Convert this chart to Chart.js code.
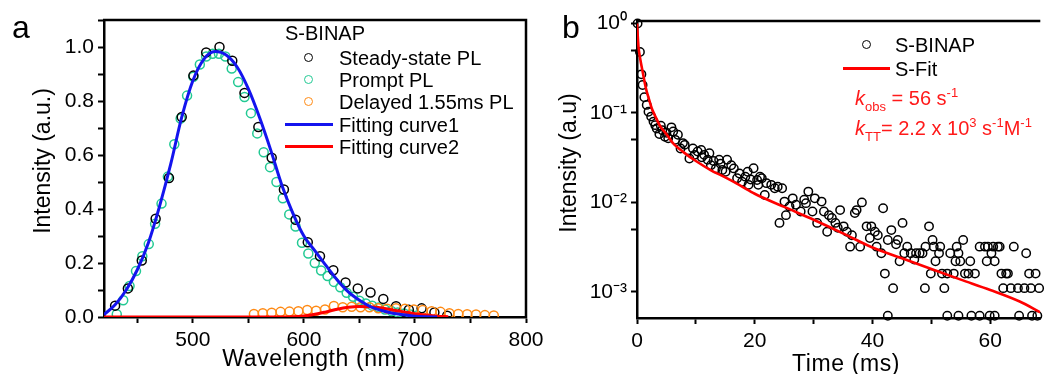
<!DOCTYPE html>
<html>
<head>
<meta charset="utf-8">
<script src="https://cdn.jsdelivr.net/npm/chart.js@4.4.1/dist/chart.umd.min.js"></script>
<style>
    body { margin: 0; background: #fff; }
    #wrap { position: relative; width: 1046px; height: 374px; overflow: hidden;
            font-family: "Liberation Sans", Arial, sans-serif; color: #000; }
    canvas { position: absolute; top: 0; }
    .txt { position: absolute; white-space: nowrap; line-height: 1; font-size: 20px; }
    .rot { position: absolute; }
    .rot span { position: absolute; white-space: nowrap; line-height: 1; font-size: 23px;
                transform: translate(-50%, -50%) rotate(-90deg); }
    .title { position: absolute; white-space: nowrap; line-height: 1; font-size: 23px;
             transform: translateX(-50%); letter-spacing: 0.6px; }
    .panel { position: absolute; font-size: 32px; line-height: 1; }
    .dot { position: absolute; width: 7px; height: 7px; border: 1.6px solid; border-radius: 50%; }
    .bar { position: absolute; height: 3px; }
    .red { color: #ff1a1a; }
    .sub { font-size: 13px; position: relative; top: 6px; }
    .sup { font-size: 13px; position: relative; top: -8px; }
</style>
</head>
<body>
<div id="wrap">
    <canvas id="spectraChart" width="560" height="374" style="left:0"></canvas>
    <canvas id="decayChart" width="516" height="374" style="left:530px"></canvas>

    <div class="panel" style="left:12px; top:11px">a</div>
    <div class="panel" style="left:562px; top:11px">b</div>

    <!-- titulos de ejes -->
    <div class="rot" style="left:42px; top:161px"><span>Intensity (a.u.)</span></div>
    <div class="rot" style="left:568px; top:163px"><span>Intensity (a.u)</span></div>
    <div class="title" style="left:314px; top:347px">Wavelength (nm)</div>
    <div class="title" style="left:846px; top:352px">Time (ms)</div>

    <!-- leyenda panel a -->
    <div class="txt" style="left:285px; top:23px">S-BINAP</div>
    <div class="dot" style="left:304px; top:53px; border-color:#000"></div>
    <div class="txt" style="left:339px; top:48px">Steady-state PL</div>
    <div class="dot" style="left:304px; top:75px; border-color:#22c993"></div>
    <div class="txt" style="left:339px; top:70px">Prompt PL</div>
    <div class="dot" style="left:304px; top:97px; border-color:#ff8a14"></div>
    <div class="txt" style="left:339px; top:92px">Delayed 1.55ms PL</div>
    <div class="bar" style="left:285px; top:123px; width:48px; background:#1414ee"></div>
    <div class="txt" style="left:339px; top:115px">Fitting curve1</div>
    <div class="bar" style="left:285px; top:145px; width:48px; background:#ff0000"></div>
    <div class="txt" style="left:339px; top:137px">Fitting curve2</div>

    <!-- leyenda panel b -->
    <div class="dot" style="left:862px; top:40px; border-color:#000"></div>
    <div class="txt" style="left:895px; top:35px">S-BINAP</div>
    <div class="bar" style="left:843px; top:67px; width:47px; background:#ff0000"></div>
    <div class="txt" style="left:895px; top:59px">S-Fit</div>
    <div class="txt red" style="left:855px; top:88px"><i>k</i><span class="sub">obs</span> = 56 s<span class="sup">-1</span></div>
    <div class="txt red" style="left:855px; top:118px"><i>k</i><span class="sub">TT</span>= 2.2 x 10<span class="sup">3</span> s<span class="sup">-1</span>M<span class="sup">-1</span></div>
</div>

<script>
// Panel a: espectros
const ssWl = [430, 441.5, 454, 466.5, 478.5, 490, 500.5, 512, 524, 535.5, 546.5, 559, 571, 582, 592.5, 603.5, 614.5, 626.5, 637.5, 648.5, 660, 671.5, 683, 694.5, 706, 717.5, 729];
const ssInt = [0.042, 0.106, 0.209, 0.364, 0.515, 0.741, 0.894, 0.98, 1.0, 0.949, 0.83, 0.704, 0.59, 0.472, 0.36, 0.277, 0.225, 0.173, 0.128, 0.106, 0.091, 0.067, 0.04, 0.027, 0.032, 0.017, 0.005];

const promptWl = [431.5, 437.3, 443, 448.8, 454.5, 460.3, 466, 471.8, 477.5, 483.3, 489, 494.8, 500.5, 506.3, 512, 517.8, 523.5, 529.3, 535, 540.8, 546.5, 552.3, 558, 563.8, 569.5, 575.3, 581, 586.8, 592.5, 598.3, 604, 609.8, 615.5, 621.3, 627, 632.8, 638.5, 644.3, 650, 655.8, 661.5, 667.3, 673, 678.8, 684.5, 690.3, 696, 701.8];
const promptInt = [0.01, 0.062, 0.115, 0.17, 0.225, 0.27, 0.345, 0.42, 0.52, 0.64, 0.735, 0.82, 0.89, 0.935, 0.965, 0.975, 0.975, 0.965, 0.92, 0.87, 0.815, 0.755, 0.68, 0.61, 0.555, 0.5, 0.44, 0.38, 0.335, 0.275, 0.235, 0.2, 0.172, 0.152, 0.13, 0.11, 0.09, 0.075, 0.06, 0.05, 0.042, 0.035, 0.028, 0.022, 0.017, 0.013, 0.009, 0.006];

const delayedWl = [555, 563, 571, 579, 587, 595, 603, 611, 619, 627, 635, 643, 651, 659, 667, 675, 683, 691, 699, 707, 715, 723, 731, 739, 747, 755, 763, 771];
const delayedInt = [0.011, 0.014, 0.016, 0.019, 0.02, 0.021, 0.026, 0.023, 0.028, 0.041, 0.036, 0.038, 0.036, 0.036, 0.032, 0.031, 0.032, 0.031, 0.028, 0.026, 0.021, 0.019, 0.014, 0.011, 0.01, 0.009, 0.007, 0.006];

const fit1Wl = [420, 430, 440, 450, 460, 470, 480, 490, 500, 510, 520, 530, 540, 550, 560, 570, 580, 590, 600, 610, 620, 630, 640, 650, 660, 670, 680, 690, 700, 710, 720];
const fit1Int = [0.009, 0.045, 0.1, 0.175, 0.275, 0.41, 0.565, 0.74, 0.875, 0.955, 0.983, 0.97, 0.925, 0.845, 0.74, 0.62, 0.49, 0.385, 0.3, 0.245, 0.19, 0.137, 0.093, 0.062, 0.038, 0.024, 0.014, 0.008, 0.003, 0.001, 0];

const fit2Wl = [420, 500, 580, 590, 600, 610, 620, 630, 640, 650, 660, 670, 680, 690, 700, 710, 720, 730];
const fit2Int = [0, 0, 0, 0.001, 0.004, 0.01, 0.019, 0.029, 0.036, 0.039, 0.038, 0.033, 0.026, 0.019, 0.012, 0.007, 0.003, 0.001];

// Panel b: decaimiento
const decayTime = [0.1, 0.5, 0.75, 0.95, 1.25, 1.65, 1.95, 2.4, 2.8, 3.1, 3.35, 3.8, 4.05, 4.3, 4.75, 5.0, 5.3, 5.85, 6.15, 6.5, 6.95, 7.4, 7.8, 8.1, 8.9, 9.5, 9.8, 10.3, 10.9, 11.0, 11.4, 12.0, 12.3, 12.55, 13.0, 13.4, 13.95, 14.2, 14.5, 15.05, 15.3, 16.0, 16.45, 17.0, 17.4, 17.85, 18.4, 18.8, 18.95, 19.3, 19.8, 20.4, 20.6, 20.9, 21.2, 21.7, 22.0, 22.8, 23.4, 23.9, 24.2, 24.65, 25.05, 25.3, 25.9, 26.45, 27.0, 27.8, 28.4, 28.7, 29.1, 29.8, 30.2, 30.6, 31.35, 31.75, 32.3, 32.6, 33.1, 33.7, 34.1, 34.5, 35.1, 35.65, 36.2, 36.5, 37.0, 37.3, 37.9, 38.2, 39.0, 39.55, 39.8, 40.4, 40.7, 40.9, 41.5, 41.8, 42.1, 42.6, 42.6, 43.2, 43.5, 44.0, 44.3, 44.6, 45.1, 45.4, 45.9, 46.5, 47.1, 47.4, 48.0, 48.5, 48.9, 49.0, 49.6, 49.9, 50.2, 50.4, 50.7, 51.3, 51.5, 51.8, 52.2, 52.7, 52.7, 53.2, 53.8, 54.1, 54.3, 54.6, 54.6, 54.9, 55.4, 55.7, 56.3, 56.6, 56.8, 57.4, 58.2, 58.2, 59.1, 59.4, 59.6, 59.9, 60.2, 60.5, 60.75, 60.75, 61.3, 61.6, 61.9, 62.2, 62.7, 63.0, 63.5, 64.0, 64.7, 64.9, 65.8, 66.1, 66.6, 66.9, 67.1, 67.7, 68.0, 68.3];
const decayInt = [1.0, 0.48, 0.27, 0.205, 0.15, 0.123, 0.103, 0.091, 0.08, 0.073, 0.067, 0.058, 0.072, 0.064, 0.054, 0.06, 0.052, 0.069, 0.062, 0.05, 0.057, 0.04, 0.046, 0.044, 0.031, 0.04, 0.034, 0.037, 0.0386, 0.032, 0.034, 0.03, 0.0355, 0.026, 0.029, 0.024, 0.03, 0.027, 0.023, 0.022, 0.03, 0.026, 0.024, 0.0186, 0.021, 0.017, 0.0194, 0.022, 0.0157, 0.018, 0.0241, 0.0178, 0.0157, 0.0194, 0.0186, 0.0121, 0.0164, 0.0157, 0.0144, 0.015, 0.0059, 0.0144, 0.0102, 0.0072, 0.009, 0.0111, 0.0094, 0.0079, 0.0107, 0.0098, 0.0132, 0.0079, 0.0111, 0.0059, 0.0102, 0.0079, 0.0047, 0.0072, 0.0067, 0.0059, 0.0052, 0.0082, 0.0054, 0.0047, 0.0032, 0.0043, 0.0076, 0.0082, 0.0032, 0.01, 0.0054, 0.004, 0.0054, 0.0047, 0.0032, 0.0043, 0.0027, 0.0086, 0.0016, 0.0038, 0.00054, 0.0049, 0.0011, 0.0034, 0.0038, 0.0022, 0.0059, 0.0027, 0.0032, 0.0027, 0.0023, 0.0027, 0.0027, 0.0027, 0.0011, 0.0032, 0.0054, 0.0016, 0.0038, 0.0032, 0.0022, 0.0027, 0.0032, 0.0016, 0.0011, 0.0016, 0.00054, 0.0027, 0.0016, 0.0022, 0.0032, 0.0027, 0.00054, 0.0022, 0.0038, 0.0016, 0.0016, 0.0022, 0.00054, 0.0016, 0.0032, 0.00054, 0.0032, 0.0022, 0.0032, 0.00054, 0.0027, 0.0032, 0.0022, 0.00054, 0.0032, 0.0032, 0.0016, 0.0011, 0.0016, 0.0016, 0.0011, 0.0032, 0.0011, 0.00054, 0.0011, 0.0027, 0.0016, 0.0011, 0.00054, 0.0016, 0.00054, 0.0011];

const fitTime = [0, 0.25, 0.5, 1, 1.5, 2, 2.5, 3, 4, 5, 6, 8, 10, 12.5, 15, 17.5, 20, 25, 30, 35, 40, 45, 50, 55, 60, 65, 68.5];
const fitInt = [1.0, 0.55, 0.42, 0.28, 0.19, 0.145, 0.113, 0.095, 0.07, 0.058, 0.047, 0.036, 0.029, 0.023, 0.019, 0.0155, 0.0125, 0.0089, 0.0064, 0.0045, 0.00313, 0.00237, 0.0018, 0.00137, 0.00105, 0.00078, 0.00059];

const logTicks = [0.001, 0.005, 0.01, 0.05, 0.1, 0.5, 1];
const decadeValues = [1, 0.1, 0.01, 0.001];
const decadeLabels = ['10⁰', '10⁻¹', '10⁻²', '10⁻³'];

const FONT = '"Liberation Sans", Arial, sans-serif';

function pairs(xs, ys) {
    return xs.map((x, i) => ({ x: x, y: ys[i] }));
}

// marco superior/derecho del area del grafico
const framePlugin = {
    id: 'frame',
    afterDraw(chart, args, opts) {
        const ctx = chart.ctx;
        const a = chart.chartArea;
        ctx.save();
        ctx.strokeStyle = '#000';
        ctx.lineWidth = 2.5;
        ctx.beginPath();
        ctx.moveTo(a.left - 1, a.top);
        ctx.lineTo(a.right, a.top);
        if (opts.right) ctx.lineTo(a.right, a.bottom + 1);
        ctx.stroke();
        ctx.restore();
    }
};

function axisStyle() {
    return {
        grid: { display: true, drawOnChartArea: false, drawTicks: true, tickLength: 6, tickWidth: 2, tickColor: '#000' },
        border: { display: true, color: '#000', width: 2.5 }
    };
}

function scatterSet(data, color, radius) {
    return {
        type: 'scatter',
        data: data,
        showLine: false,
        pointStyle: 'circle',
        pointRadius: radius,
        pointBorderWidth: 1.5,
        pointBorderColor: color,
        pointBackgroundColor: 'rgba(0,0,0,0)'
    };
}

function lineSet(data, color, width) {
    return {
        type: 'line',
        data: data,
        borderColor: color,
        borderWidth: width,
        pointRadius: 0,
        fill: false,
        cubicInterpolationMode: 'monotone'
    };
}

function renderSpectraChart() {
    const ctx = document.getElementById('spectraChart').getContext('2d');
    const black = scatterSet(pairs(ssWl, ssInt), '#000', 4.5);
    const green = scatterSet(pairs(promptWl, promptInt), '#22c993', 4.5);
    const orange = scatterSet(pairs(delayedWl, delayedInt), '#ff8a14', 4.5);
    const blue = lineSet(pairs(fit1Wl, fit1Int), '#1414ee', 3);
    const red = lineSet(pairs(fit2Wl, fit2Int), '#ff0000', 3);
    black.order = 3; green.order = 4; orange.order = 2; blue.order = 0; red.order = 1;

    new Chart(ctx, {
        type: 'scatter',
        data: { datasets: [black, green, orange, blue, red] },
        options: {
            responsive: false,
            animation: false,
            layout: { padding: { left: 44, right: 34, top: 20, bottom: 17 } },
            plugins: { legend: { display: false }, tooltip: { enabled: false }, frame: { right: true } },
            scales: {
                x: Object.assign(axisStyle(), {
                    type: 'linear', min: 420, max: 800,
                    afterFit: s => { s.height = 40; },
                    ticks: {
                        stepSize: 50, includeBounds: false, autoSkip: false, maxRotation: 0,
                        padding: 5, color: '#000', font: { family: FONT, size: 21 },
                        callback: v => (v % 100 === 0 ? String(v) : '')
                    }
                }),
                y: Object.assign(axisStyle(), {
                    type: 'linear', min: 0, max: 1.1,
                    afterFit: s => { s.width = 60; },
                    ticks: {
                        stepSize: 0.1, includeBounds: false, autoSkip: false,
                        padding: 4, color: '#000', font: { family: FONT, size: 21 },
                        callback: v => {
                            const n = Math.round(v * 10);
                            return (n % 2 === 0 && n <= 10) ? (n / 10).toFixed(1) : '';
                        }
                    }
                })
            }
        },
        plugins: [framePlugin]
    });
}

function renderDecayChart() {
    const ctx = document.getElementById('decayChart').getContext('2d');
    const pts = scatterSet(pairs(decayTime, decayInt), '#000', 4.2);
    pts.clip = false;
    pts.order = 1;
    const fit = lineSet(pairs(fitTime, fitInt), '#ff0000', 2.6);
    fit.order = 0;

    new Chart(ctx, {
        type: 'scatter',
        data: { datasets: [pts, fit] },
        options: {
            responsive: false,
            animation: false,
            layout: { padding: { left: 47, right: 0, top: 21, bottom: 16 } },
            plugins: { legend: { display: false }, tooltip: { enabled: false }, frame: { right: false } },
            scales: {
                x: Object.assign(axisStyle(), {
                    type: 'linear', min: 0, max: 68.5,
                    afterFit: s => { s.height = 40; },
                    ticks: {
                        stepSize: 10, includeBounds: false, autoSkip: false, maxRotation: 0,
                        padding: 5, color: '#000', font: { family: FONT, size: 21 },
                        callback: v => (v % 20 === 0 ? String(v) : '')
                    }
                }),
                y: Object.assign(axisStyle(), {
                    type: 'logarithmic', min: 0.00051, max: 1.066,
                    afterFit: s => { s.width = 60; },
                    afterBuildTicks: s => { s.ticks = logTicks.map(v => ({ value: v })); },
                    ticks: {
                        autoSkip: false, padding: 4, color: '#000', font: { family: FONT, size: 21 },
                        callback: v => {
                            const i = decadeValues.indexOf(v);
                            return i >= 0 ? decadeLabels[i] : '';
                        }
                    }
                })
            }
        },
        plugins: [framePlugin]
    });
}

renderSpectraChart();
renderDecayChart();
</script>
</body>
</html>
